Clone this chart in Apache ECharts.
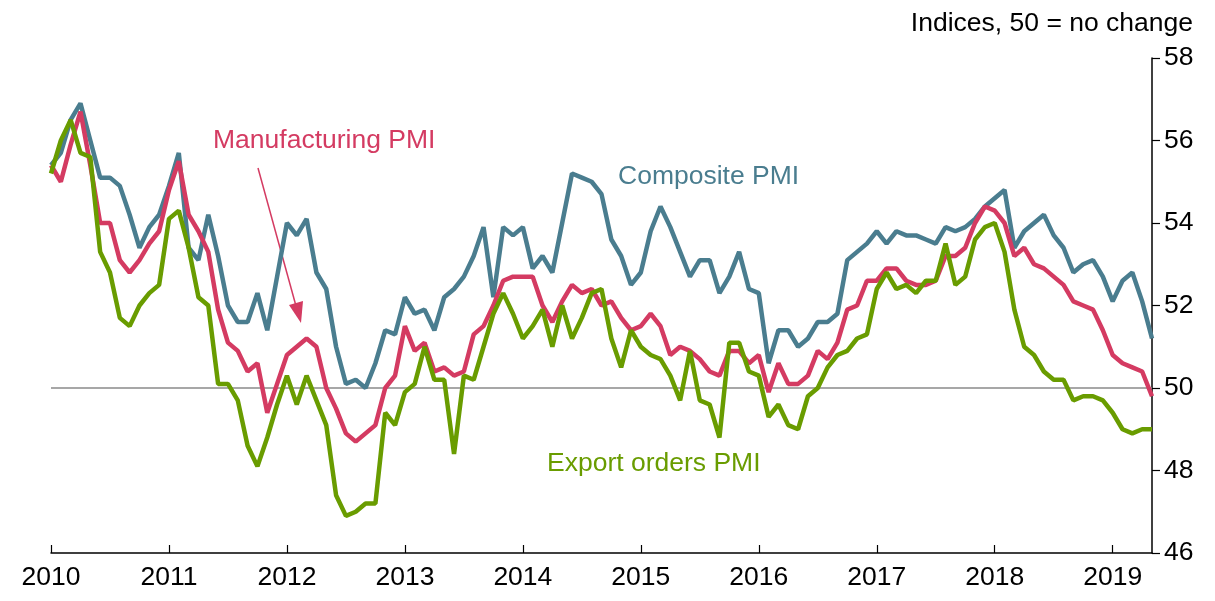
<!DOCTYPE html>
<html>
<head>
<meta charset="utf-8">
<script src="https://cdn.jsdelivr.net/npm/echarts@6/dist/echarts.min.js"></script>
<style>
  html, body { margin: 0; padding: 0; background: #fff; }
  #chart { width: 1215px; height: 601px; }
</style>
</head>
<body>
<div id="chart"></div>
<script>
// monthly, Jan 2010 - May 2019
const yearLabels = ['2010', '2011', '2012', '2013', '2014', '2015', '2016', '2017', '2018', '2019'];
const yTicks = [46, 48, 50, 52, 54, 56, 58];

const composite = [
    55.4, 55.7, 56.5, 56.9, 56.0, 55.1, 55.1, 54.9, 54.2, 53.4, 53.9, 54.2,
    54.9, 55.7, 53.4, 53.1, 54.2, 53.2, 52.0, 51.6, 51.6, 52.3, 51.4, 52.7,
    54.0, 53.7, 54.1, 52.8, 52.4, 51.0, 50.1, 50.2, 50.0, 50.6, 51.4, 51.3,
    52.2, 51.8, 51.9, 51.4, 52.2, 52.4, 52.7, 53.2, 53.9, 52.2, 53.9, 53.7,
    53.9, 52.9, 53.2, 52.8, 54.0, 55.2, 55.1, 55.0, 54.7, 53.6, 53.2, 52.5,
    52.8, 53.8, 54.4, 53.9, 53.3, 52.7, 53.1, 53.1, 52.3, 52.7, 53.3, 52.4,
    52.3, 50.6, 51.4, 51.4, 51.0, 51.2, 51.6, 51.6, 51.8, 53.1, 53.3, 53.5,
    53.8, 53.5, 53.8, 53.7, 53.7, 53.6, 53.5, 53.9, 53.8, 53.9, 54.1, 54.4,
    54.6, 54.8, 53.4, 53.8, 54.0, 54.2, 53.7, 53.4, 52.8, 53.0, 53.1, 52.7,
    52.1, 52.6, 52.8, 52.1, 51.2
];
const manufacturing = [
    55.4, 55.0, 55.9, 56.7, 55.4, 54.0, 54.0, 53.1, 52.8, 53.1, 53.5, 53.8,
    54.8, 55.5, 54.2, 53.8, 53.3, 51.9, 51.1, 50.9, 50.4, 50.6, 49.4, 50.1,
    50.8, 51.0, 51.2, 51.0, 50.0, 49.5, 48.9, 48.7, 48.9, 49.1, 50.0, 50.3,
    51.5, 50.9, 51.1, 50.4, 50.5, 50.3, 50.4, 51.3, 51.5, 52.0, 52.6, 52.7,
    52.7, 52.7, 52.0, 51.6, 52.1, 52.5, 52.3, 52.4, 52.0, 52.1, 51.7, 51.4,
    51.5, 51.8, 51.5, 50.8, 51.0, 50.9, 50.7, 50.4, 50.3, 50.9, 50.9, 50.6,
    50.8, 49.9, 50.6, 50.1, 50.1, 50.3, 50.9, 50.7, 51.1, 51.9, 52.0, 52.6,
    52.6, 52.9, 52.9, 52.6, 52.5, 52.5, 52.6, 53.2, 53.2, 53.4, 54.0, 54.4,
    54.3, 54.0, 53.2, 53.4, 53.0, 52.9, 52.7, 52.5, 52.1, 52.0, 51.9, 51.4,
    50.8, 50.6, 50.5, 50.4, 49.8
];
const exportOrders = [
    55.2, 56.0, 56.5, 55.7, 55.6, 53.3, 52.8, 51.7, 51.5, 52.0, 52.3, 52.5,
    54.1, 54.3, 53.4, 52.2, 52.0, 50.1, 50.1, 49.7, 48.6, 48.1, 48.8, 49.6,
    50.3, 49.6, 50.3, 49.7, 49.1, 47.4, 46.9, 47.0, 47.2, 47.2, 49.4, 49.1,
    49.9, 50.1, 51.0, 50.2, 50.2, 48.4, 50.3, 50.2, 51.0, 51.8, 52.3, 51.8,
    51.2, 51.5, 51.9, 51.0, 52.0, 51.2, 51.7, 52.3, 52.4, 51.2, 50.5, 51.4,
    51.0, 50.8, 50.7, 50.3, 49.7, 50.9, 49.7, 49.6, 48.8, 51.1, 51.1, 50.4,
    50.3, 49.3, 49.6, 49.1, 49.0, 49.8, 50.0, 50.5, 50.8, 50.9, 51.2, 51.3,
    52.4, 52.8, 52.4, 52.5, 52.3, 52.6, 52.6, 53.5, 52.5, 52.7, 53.6, 53.9,
    54.0, 53.3, 51.9, 51.0, 50.8, 50.4, 50.2, 50.2, 49.7, 49.8, 49.8, 49.7,
    49.4, 49.0, 48.9, 49.0, 49.0
];

// month categories
const months = [];
for (let i = 0; i < composite.length; i++) {
    months.push(yearLabels[0] * 1 + Math.floor(i / 12) + '-' + (i % 12 + 1));
}

const cBlue = '#4a7d8f';
const cRed = '#d43b62';
const cGreen = '#699c00';
const font = 'Liberation Sans, Arial, sans-serif';
const fs = 26.5;

const chart = echarts.init(document.getElementById('chart'));
chart.setOption({
    animation: false,
    grid: { left: 51, right: 63, top: 58, bottom: 48 },
    xAxis: {
        type: 'category',
        data: months,
        boundaryGap: false,
        axisLine: { lineStyle: { color: '#000', width: 1.5 } },
        axisTick: {
            inside: true,
            length: 8,
            interval: (i) => i % 12 === 0,
            lineStyle: { color: '#000', width: 1.2 }
        },
        axisLabel: {
            interval: (i) => i % 12 === 0,
            formatter: (v) => v.split('-')[0],
            color: '#000',
            fontSize: fs,
            fontFamily: font,
            margin: 11
        },
        splitLine: { show: false }
    },
    yAxis: {
        type: 'value',
        position: 'right',
        min: yTicks[0],
        max: yTicks[yTicks.length - 1],
        interval: 2,
        axisLine: { show: true, lineStyle: { color: '#000', width: 1.5 } },
        axisTick: { show: true, length: 8, lineStyle: { color: '#000', width: 1.2 } },
        axisLabel: { color: '#000', fontSize: fs, fontFamily: font, margin: 12 },
        splitLine: { show: false }
    },
    series: [
        {
            name: 'Composite PMI',
            type: 'line',
            data: composite,
            symbol: 'none',
            lineStyle: { color: cBlue, width: 4.5 },
            z: 2,
            markLine: {
                silent: true,
                symbol: 'none',
                label: { show: false },
                lineStyle: { color: '#8a8a8a', width: 1.5, type: 'solid' },
                data: [{ yAxis: 50 }],
                z: 1
            }
        },
        {
            name: 'Manufacturing PMI',
            type: 'line',
            data: manufacturing,
            symbol: 'none',
            lineStyle: { color: cRed, width: 4.5 },
            z: 3
        },
        {
            name: 'Export orders PMI',
            type: 'line',
            data: exportOrders,
            symbol: 'none',
            lineStyle: { color: cGreen, width: 4.5 },
            z: 4
        }
    ],
    graphic: [
        {
            type: 'text', right: 22, top: 10,
            style: { text: 'Indices, 50 = no change', fill: '#000', font: fs + 'px ' + font }
        },
        {
            type: 'text', left: 213, top: 127,
            style: { text: 'Manufacturing PMI', fill: cRed, font: fs + 'px ' + font }
        },
        {
            type: 'text', left: 618, top: 163,
            style: { text: 'Composite PMI', fill: cBlue, font: fs + 'px ' + font }
        },
        {
            type: 'text', left: 547, top: 450,
            style: { text: 'Export orders PMI', fill: cGreen, font: fs + 'px ' + font }
        },
        // annotation arrow
        {
            type: 'line',
            shape: { x1: 258, y1: 168, x2: 296, y2: 306 },
            style: { stroke: cRed, lineWidth: 1.5 }
        },
        {
            type: 'polygon',
            shape: { points: [[301, 323], [289, 305], [303, 301]] },
            style: { fill: cRed }
        }
    ]
});
</script>
</body>
</html>
